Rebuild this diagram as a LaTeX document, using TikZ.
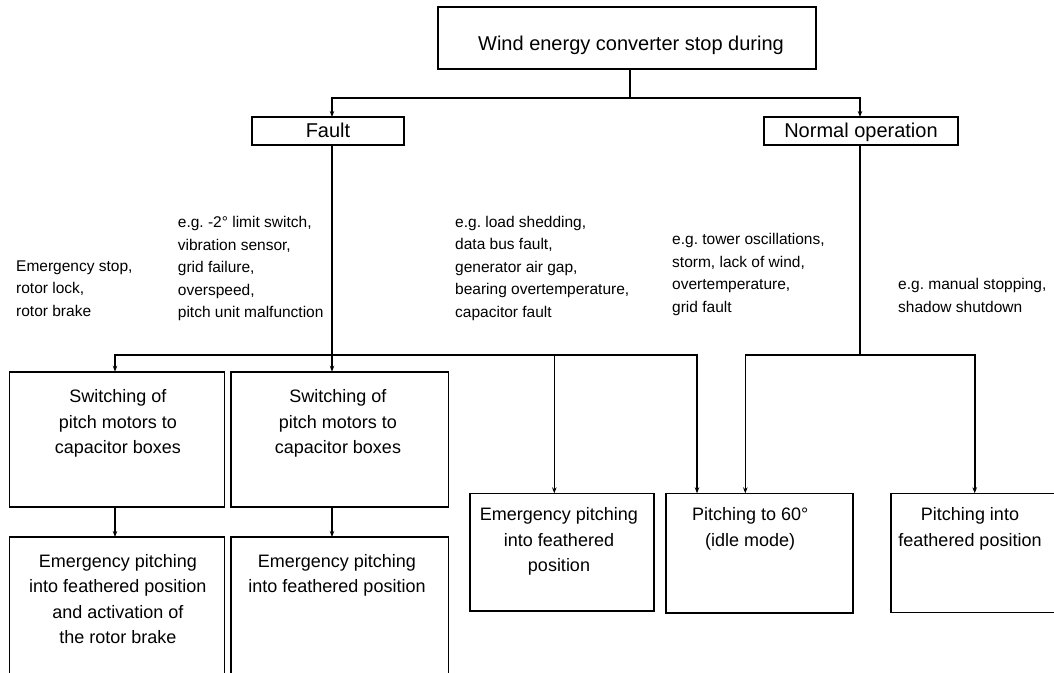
\documentclass[tikz,border=0pt]{standalone}
\usepackage{fontspec}
\setmainfont{Liberation Sans}
\usetikzlibrary{arrows.meta}
\begin{document}
\frenchspacing
\begin{tikzpicture}[x=1pt,y=-1pt,
  box/.style={draw,line width=1.6pt,inner sep=0pt,outer sep=0pt},
  lbl/.style={inner sep=0pt,align=center,font=\fontsize{18}{25.5}\selectfont,anchor=north},
  note/.style={inner sep=0pt,align=left,font=\fontsize{15.5}{22.5}\selectfont,anchor=north west},
  head/.style={font=\fontsize{20}{24}\selectfont},
  arr/.style={line width=1.6pt,-{Stealth[length=6pt,width=4.5pt]}},
  ln/.style={line width=1.6pt}]

\useasboundingbox (0,0) rectangle (1054,672);
\fill[white] (0,0) rectangle (1054,672);
\clip (0,0) rectangle (1054,672);

% top level
\node[box,minimum width=378pt,minimum height=62pt] (top) at (627,38) {};
\node[head,anchor=base,inner sep=0pt] (toptext) at ([xshift=4pt,yshift=-12pt]top.center) {Wind energy converter stop during};

\node[box,head,minimum width=152pt,minimum height=28pt,text height=14.6pt,text depth=2.6pt] (fault) at (328,131) {Fault};
\node[box,head,minimum width=194pt,minimum height=28pt,text height=14.6pt,text depth=2.6pt] (normal) at (861,131) {Normal operation};

% lower boxes
\node[box,minimum width=215pt,minimum height=135pt] (sw1) at (116.8,439.2) {};
\node[box,minimum width=217.6pt,minimum height=135pt] (sw2) at (339.5,439.2) {};
\node[box,minimum width=215pt,minimum height=200pt] (em1) at (116.8,637) {};
\node[box,minimum width=217.6pt,minimum height=200pt] (em2) at (339.5,637) {};
\node[box,minimum width=184pt,minimum height=117.4pt] (em3) at (562,552) {};
\node[box,minimum width=187pt,minimum height=119.4pt] (p60) at (759.2,553) {};
\node[box,minimum width=189pt,minimum height=119pt] (pf) at (985.5,552.8) {};

% box texts
\node[lbl] (sw1t) at ([xshift=1pt,yshift=-18pt]sw1.north) {Switching of\\pitch motors to\\capacitor boxes};
\node[lbl] (sw2t) at ([xshift=-1.5pt,yshift=-18pt]sw2.north) {Switching of\\pitch motors to\\capacitor boxes};
\node[lbl] (em1t) at ([xshift=1pt,yshift=-17pt]em1.north) {Emergency pitching\\into feathered position\\and activation of\\the rotor brake};
\node[lbl] (em2t) at ([xshift=-2.5pt,yshift=-17pt]em2.north) {Emergency pitching\\into feathered position};
\node[lbl] (em3t) at ([xshift=-3pt,yshift=-14pt]em3.north) {Emergency pitching\\into feathered\\position};
\node[lbl] (p60t) at ([xshift=-9pt,yshift=-14pt]p60.north) {Pitching to 60°\\(idle mode)};
\node[lbl] (pft) at ([xshift=-15.5pt,yshift=-14pt]pf.north) {Pitching into\\feathered position};

% annotations
\node[note] (n1) at (16,260.4) {Emergency stop,\\rotor lock,\\rotor brake};
\node[note] (n2) at (177.7,216.4) {e.g. -2° limit switch,\\vibration sensor,\\grid failure,\\overspeed,\\pitch unit malfunction};
\node[note] (n3) at (455,215.6) {e.g. load shedding,\\data bus fault,\\generator air gap,\\bearing overtemperature,\\capacitor fault};
\node[note] (n4) at (672,233.5) {e.g. tower oscillations,\\storm, lack of wind,\\overtemperature,\\grid fault};
\node[note] (n5) at (898,278.5) {e.g. manual stopping,\\shadow shutdown};

% connectors
\coordinate (hub) at (630,98);
\draw[ln] ([xshift=3pt]top.south) -- (hub);
\draw[arr] (hub) -| ([xshift=4pt]fault.north);
\draw[arr] (hub) -| ([xshift=-1pt]normal.north);

\coordinate (fj) at (332,355);
\draw[ln] ([xshift=4pt]fault.south) -- (fj);
\draw[arr] (fj) -| ([xshift=-1.8pt]sw1.north);
\draw[arr] (fj) -- ([xshift=-7.5pt]sw2.north);
\draw[arr] (fj) -| ([xshift=-7.7pt]em3.north);
\draw[arr] (fj) -| ([xshift=-62.2pt]p60.north);

\coordinate (nj) at (860,355);
\draw[ln] ([xshift=-1pt]normal.south) -- (nj);
\draw[arr] (nj) -| ([xshift=-13.9pt]p60.north);
\draw[arr] (nj) -| ([xshift=-10.8pt]pf.north);

\draw[arr] ([xshift=-1.8pt]sw1.south) -- ([xshift=-1.8pt]em1.north);
\draw[arr] ([xshift=-7.5pt]sw2.south) -- ([xshift=-7.5pt]em2.north);
\end{tikzpicture}
\end{document}
